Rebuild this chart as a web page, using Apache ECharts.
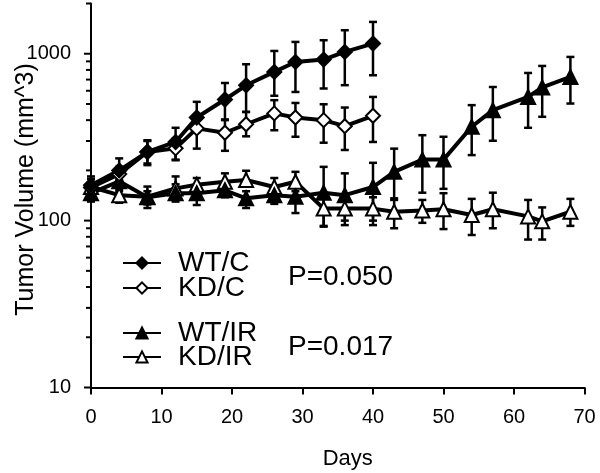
<!DOCTYPE html>
<html><head><meta charset="utf-8">
<script src="https://cdn.jsdelivr.net/npm/echarts@6/dist/echarts.min.js"></script>
<style>html,body{margin:0;padding:0;background:#fff}#c{width:600px;height:473px}</style>
</head><body><div id="c"></div>
<script>
// ---- data ----
const daysC = [0, 4, 8, 12, 15, 19, 22, 26, 29, 33, 36, 40];
const daysIR = [0, 4, 8, 12, 15, 19, 22, 26, 29, 33, 36, 40, 43, 47, 50, 54, 57, 62, 64, 68];

const wtC   = [163, 200, 258, 296, 415, 532, 647, 778, 893, 923, 1025, 1151];
const wtCHi = [178, 236, 303, 360, 515, 668, 865, 1039, 1177, 1205, 1383, 1551];
const wtCLo = [150, 175, 220, 232, 340, 400, 448, 560, 590, 619, 648, 743];

const kdC   = [158, 190, 258, 271, 357, 336, 378, 439, 415, 400, 368, 425];
const kdCHi = [170, 210, 300, 310, 420, 404, 448, 527, 507, 498, 476, 551];
const kdCLo = [148, 170, 215, 230, 270, 262, 320, 348, 318, 293, 265, 296];

const wtIR   = [146, 172, 138, 146, 146, 152, 136, 142, 139, 147, 142, 159, 196, 232, 232, 365, 459, 551, 628, 726];
const wtIRHi = [160, 190, 150, 165, 160, 165, 150, 160, 165, 210, 192, 222, 270, 325, 318, 492, 632, 767, 845, 957];
const wtIRLo = [130, 150, 125, 130, 124, 138, 119, 126, 111, 93, 100, 100, 133, 147, 155, 247, 301, 360, 419, 503];

const kdIR   = [159, 142, 139, 156, 164, 171, 175, 159, 171, 118, 118, 118, 113, 115, 117, 108, 117, 106, 99, 113];
const kdIRHi = [184, 155, 160, 184, 180, 192, 199, 180, 196, 139, 138, 138, 136, 133, 146, 135, 147, 133, 120, 135];
const kdIRLo = [145, 128, 119, 140, 150, 155, 160, 145, 150, 92, 94, 94, 90, 97, 89, 82, 90, 77, 77, 93];

const xTicks = [0, 10, 20, 30, 40, 50, 60, 70];
const yMajor = [10, 100, 1000];
const yMinor = [20, 30, 40, 50, 60, 70, 80, 90, 200, 300, 400, 500, 600, 700, 800, 900, 2000];
const yMin = 10, yMax = 2000;
const pLabels = ['P=0.050', 'P=0.017'];

// ---- chart ----
const FONT = 'Liberation Sans, Arial, Helvetica, sans-serif';
const chart = echarts.init(document.getElementById('c'), null, {renderer: 'canvas'});

function errSeries(days, lo, hi) {
  return {
    type: 'custom', yAxisIndex: 0, silent: true, z: 1,
    data: days.map((d, i) => [d, lo[i], hi[i]]),
    encode: {x: 0, y: [1, 2]},
    renderItem: function (params, api) {
      const x = api.value(0);
      const a = api.coord([x, api.value(1)]);
      const b = api.coord([x, api.value(2)]);
      const w = 4;
      const st = {stroke: '#000', lineWidth: 2.5};
      return {type: 'group', children: [
        {type: 'line', shape: {x1: a[0], y1: a[1], x2: b[0], y2: b[1]}, style: st},
        {type: 'line', shape: {x1: a[0] - w, y1: a[1], x2: a[0] + w, y2: a[1]}, style: st},
        {type: 'line', shape: {x1: b[0] - w, y1: b[1], x2: b[0] + w, y2: b[1]}, style: st}
      ]};
    }
  };
}
// y-axis tick marks on the log scale (placed through the axis' own coord mapping)
function yTickSeries(vals, len) {
  return {
    type: 'custom', yAxisIndex: 0, silent: true, clip: false, z: 5,
    data: vals.map(v => [0, v]),
    encode: {x: 0, y: 1},
    renderItem: function (params, api) {
      const p = api.coord([0, api.value(1)]);
      return {type: 'line', shape: {x1: p[0] - len, y1: p[1], x2: p[0], y2: p[1]},
        style: {stroke: '#000', lineWidth: 2}};
    }
  };
}
function lineSeries(name, days, vals, symbol, filled) {
  return {
    name: name, type: 'line', yAxisIndex: 0, z: 3,
    data: days.map((d, i) => [d, vals[i]]),
    symbol: symbol, symbolSize: 14, showAllSymbol: true,
    lineStyle: {color: '#000', width: 4},
    itemStyle: {color: filled ? '#000' : '#fff', borderColor: '#000', borderWidth: 2},
    emphasis: {disabled: true}
  };
}
function legendAt(name, top) {
  return {
    data: [name], left: 122, top: top, padding: 0, orient: 'vertical',
    itemWidth: 38, itemHeight: 14, selectedMode: false,
    textStyle: {fontSize: 28, fontFamily: FONT, color: '#000', padding: [0, 0, 0, 12]}
  };
}
const log10 = Math.log10;
const option = {
  animation: false,
  backgroundColor: '#fff',
  grid: {left: 91, right: 15.5, top: 3.5, bottom: 85.5, containLabel: false, outerBoundsMode: 'none'},
  xAxis: {
    type: 'value', min: 0, max: 70, interval: 10,
    axisLine: {show: true, lineStyle: {color: '#000', width: 2}},
    axisTick: {show: true, inside: false, length: 7, lineStyle: {color: '#000', width: 2}},
    axisLabel: {fontSize: 20, fontFamily: FONT, color: '#000', margin: 20,
      customValues: xTicks, formatter: v => String(v)},
    splitLine: {show: false},
    name: 'Days', nameLocation: 'middle', nameGap: 60,
    nameTextStyle: {fontSize: 22, fontFamily: FONT, color: '#000', padding: [0, 0, 0, 20]}
  },
  yAxis: [
    {type: 'log', logBase: 10, min: yMin, max: yMax, position: 'left',
      axisLine: {show: false}, axisTick: {show: false}, axisLabel: {show: false}, splitLine: {show: false}},
    {type: 'value', min: log10(yMin), max: log10(yMax), position: 'left', offset: 0,
      axisLine: {show: true, lineStyle: {color: '#000', width: 2}},
      axisTick: {show: false},
      axisLabel: {show: true, fontSize: 20, fontFamily: FONT, color: '#000', margin: 20,
        customValues: yMajor.map(log10), formatter: v => String(Math.round(Math.pow(10, v)))},
      splitLine: {show: false},
      name: 'Tumor Volume (mm^3)', nameLocation: 'middle', nameGap: 52, nameMoveOverlap: false,
      nameTextStyle: {fontSize: 25, fontFamily: FONT, color: '#000', padding: [0, 0, 0, 12]}}
  ],
  legend: [legendAt('WT/C', 249), legendAt('KD/C', 274), legendAt('WT/IR', 319), legendAt('KD/IR', 343)],
  graphic: [
    {type: 'text', x: 288, y: 277, style: {text: pLabels[0], fontSize: 28, fontFamily: FONT, fill: '#000', verticalAlign: 'middle'}},
    {type: 'text', x: 288, y: 347, style: {text: pLabels[1], fontSize: 28, fontFamily: FONT, fill: '#000', verticalAlign: 'middle'}}
  ],
  series: [
    yTickSeries(yMajor, 7),
    yTickSeries(yMinor, 5),
    errSeries(daysC, wtCLo, wtCHi),
    errSeries(daysC, kdCLo, kdCHi),
    errSeries(daysIR, wtIRLo, wtIRHi),
    errSeries(daysIR, kdIRLo, kdIRHi),
    lineSeries('KD/IR', daysIR, kdIR, 'triangle', false),
    lineSeries('WT/IR', daysIR, wtIR, 'triangle', true),
    lineSeries('KD/C', daysC, kdC, 'diamond', false),
    lineSeries('WT/C', daysC, wtC, 'diamond', true)
  ]
};
chart.setOption(option);
</script></body></html>
